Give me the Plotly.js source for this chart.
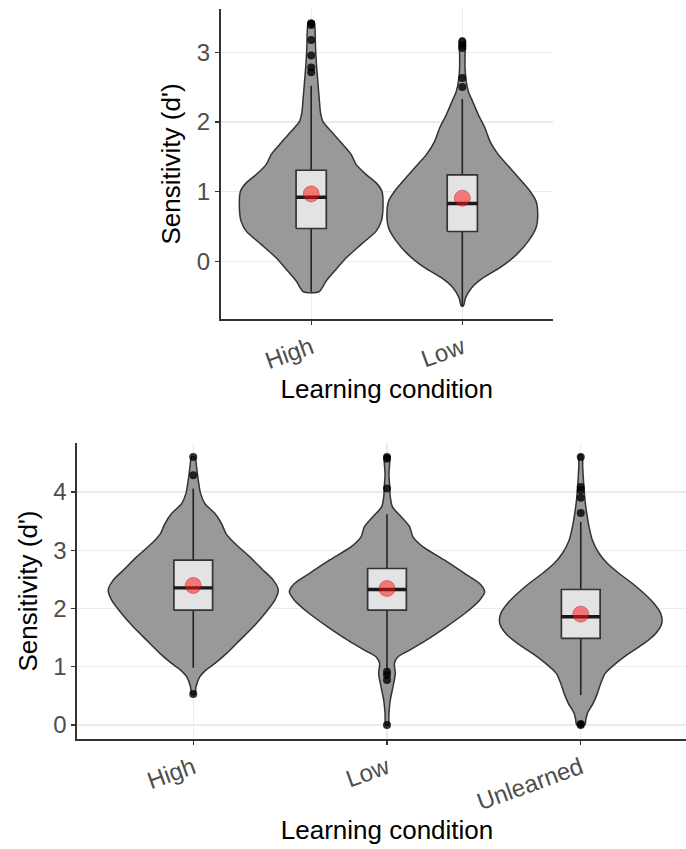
<!DOCTYPE html>
<html><head><meta charset="utf-8">
<script src="https://cdn.plot.ly/plotly-3.0.1.min.js"></script>
<style>html,body{margin:0;padding:0;overflow:hidden;background:#fff}</style>
</head><body><div id="chart" style="width:700px;height:849px"></div>
<script>
// ---------- Panel 1 (top) ----------
const cond1 = ["High", "Low"];
const p1HighY = [-0.43,-0.276,-0.133,0.057,0.248,0.438,0.581,0.771,1.01,1.129,1.248,1.39,1.533,1.676,1.867,2.01,2.13,2.343,2.58,2.82,3.057,3.295,3.44];
const p1HighW = [0.051,0.099,0.155,0.232,0.331,0.430,0.464,0.475,0.468,0.430,0.364,0.298,0.265,0.210,0.132,0.077,0.062,0.053,0.044,0.035,0.029,0.026,0.018];
const p1LowY = [-0.633,-0.514,-0.371,-0.229,-0.086,0.105,0.295,0.486,0.676,0.867,1.01,1.152,1.343,1.533,1.724,1.914,2.105,2.295,2.438,2.58,2.77,2.96,3.15,3.2];
const p1LowW = [0.007,0.022,0.062,0.139,0.249,0.360,0.437,0.488,0.499,0.488,0.448,0.393,0.316,0.238,0.183,0.150,0.106,0.068,0.040,0.026,0.018,0.018,0.020,0.011];
const p1Q1 = [0.476, 0.433];
const p1Median = [0.924, 0.833];
const p1Q3 = [1.31, 1.243];
const p1Lower = [-0.43, -0.633];
const p1Upper = [2.52, 2.33];
const p1Mean = [0.971, 0.91];
const p1OutHigh = [3.414, 3.39, 3.176, 2.952, 2.78, 2.714];
const p1OutLow = [3.15, 3.10, 3.06, 2.63, 2.50];
const p1YTicks = [0, 1, 2, 3];

// ---------- Panel 2 (bottom) ----------
const cond2 = ["High", "Low", "Unlearned"];
const p2HighY = [0.531,0.657,0.829,0.943,1.057,1.229,1.457,1.686,1.914,2.143,2.314,2.486,2.657,2.886,3.114,3.286,3.457,3.629,3.8,3.971,4.2,4.43,4.6];
const p2HighW = [0.009,0.014,0.034,0.065,0.112,0.172,0.241,0.310,0.370,0.421,0.439,0.413,0.361,0.292,0.215,0.169,0.146,0.112,0.060,0.038,0.026,0.017,0.009];
const p2LowY = [0.0,0.2,0.429,0.657,0.886,1.057,1.171,1.286,1.457,1.686,1.914,2.143,2.286,2.429,2.6,2.829,3.057,3.229,3.4,3.571,3.743,3.914,4.086,4.314,4.543,4.63];
const p2LowW = [0.007,0.010,0.017,0.031,0.043,0.038,0.057,0.117,0.203,0.306,0.401,0.478,0.504,0.478,0.401,0.298,0.186,0.134,0.117,0.074,0.028,0.017,0.014,0.010,0.014,0.007];
const p2UnlY = [0.0,0.086,0.2,0.371,0.543,0.714,0.886,1.057,1.229,1.4,1.571,1.743,1.914,2.086,2.257,2.429,2.6,2.771,2.943,3.171,3.4,3.629,3.857,4.2,4.43,4.63];
const p2UnlW = [0.021,0.026,0.034,0.064,0.086,0.103,0.126,0.181,0.249,0.327,0.387,0.418,0.413,0.378,0.327,0.267,0.198,0.138,0.095,0.060,0.043,0.031,0.022,0.014,0.010,0.007];
const p2Q1 = [1.971, 1.971, 1.486];
const p2Median = [2.354, 2.326, 1.857];
const p2Q3 = [2.829, 2.686, 2.326];
const p2Lower = [0.983, 0.943, 0.514];
const p2Upper = [4.057, 3.617, 3.486];
const p2Mean = [2.394, 2.343, 1.903];
const p2OutHigh = [4.6, 4.286, 0.531];
const p2OutLow = [4.6, 4.571, 4.057, 0.914, 0.857, 0.771, 0.0];
const p2OutUnl = [4.6, 4.086, 4.03, 3.9, 3.64, 0.017, 0.0];
const p2YTicks = [0, 1, 2, 3, 4];

// ---------- styling ----------
const FONT = "Liberation Sans, Arial, Helvetica, sans-serif";
const BOXW = 0.2;

function violinTrace(pos, ys, ws, xa, ya) {
  const x = ys.map((y, i) => pos - ws[i]).concat(ys.slice().reverse().map((y, i) => pos + ws[ws.length - 1 - i]));
  const y = ys.concat(ys.slice().reverse());
  x.push(x[0]); y.push(y[0]);
  return {type: 'scatter', mode: 'lines', x: x, y: y, fill: 'toself', fillcolor: '#999999',
    line: {color: '#333333', width: 1.5, shape: 'spline', smoothing: 0.7},
    xaxis: xa, yaxis: ya, hoverinfo: 'skip', showlegend: false};
}

function panelTraces(conds, violins, q1, med, q3, lo, hi, mean, outs, xa, ya) {
  const pos = conds.map((c, i) => i + 1);
  const h = BOXW / 2;
  const tr = [];
  violins.forEach((v, i) => tr.push(violinTrace(pos[i], v[0], v[1], xa, ya)));
  // whiskers
  const wx = [], wy = [];
  pos.forEach((p, i) => { wx.push(p, p, null, p, p, null); wy.push(lo[i], q1[i], null, q3[i], hi[i], null); });
  tr.push({type: 'scatter', mode: 'lines', x: wx, y: wy, line: {color: '#222222', width: 1.6},
    xaxis: xa, yaxis: ya, showlegend: false, hoverinfo: 'skip'});
  // boxes (q1..q3)
  const bx = [], by = [];
  pos.forEach((p, i) => {
    bx.push(p - h, p + h, p + h, p - h, p - h, null);
    by.push(q1[i], q1[i], q3[i], q3[i], q1[i], null);
  });
  tr.push({type: 'scatter', mode: 'lines', x: bx, y: by, fill: 'toself', fillcolor: '#e3e3e3',
    line: {color: '#333333', width: 1.7}, xaxis: xa, yaxis: ya, showlegend: false, hoverinfo: 'skip'});
  // thicker median line
  const mx = [], my = [];
  pos.forEach((p, i) => { mx.push(p - h, p + h, null); my.push(med[i], med[i], null); });
  tr.push({type: 'scatter', mode: 'lines', x: mx, y: my, line: {color: '#1a1a1a', width: 3.4},
    xaxis: xa, yaxis: ya, showlegend: false, hoverinfo: 'skip'});
  // outliers
  const ox = [], oy = [];
  outs.forEach((arr, i) => arr.forEach(v => { ox.push(pos[i]); oy.push(v); }));
  tr.push({type: 'scatter', mode: 'markers', x: ox, y: oy,
    marker: {color: 'rgba(0,0,0,0.8)', size: 8}, xaxis: xa, yaxis: ya, showlegend: false, hoverinfo: 'skip'});
  // means
  tr.push({type: 'scatter', mode: 'markers', x: pos, y: mean,
    marker: {color: 'rgba(255,20,20,0.52)', size: 16, line: {color: 'rgba(170,0,0,0.35)', width: 1}},
    xaxis: xa, yaxis: ya, showlegend: false, hoverinfo: 'skip'});
  return tr;
}

const traces = [].concat(
  panelTraces(cond1, [[p1HighY, p1HighW], [p1LowY, p1LowW]], p1Q1, p1Median, p1Q3, p1Lower, p1Upper, p1Mean,
    [p1OutHigh, p1OutLow], 'x', 'y'),
  panelTraces(cond2, [[p2HighY, p2HighW], [p2LowY, p2LowW], [p2UnlY, p2UnlW]], p2Q1, p2Median, p2Q3, p2Lower, p2Upper, p2Mean,
    [p2OutHigh, p2OutLow, p2OutUnl], 'x2', 'y2')
);

const W = 700, H = 849;
function xAxis(dom, n, labels) {
  return {domain: dom, range: [0.4, n + 0.6], tickmode: 'array', tickvals: labels.map((c, i) => i + 1), ticktext: labels,
    tickangle: -20, showgrid: true, gridcolor: '#ebebeb', gridwidth: 1.2, zeroline: false,
    showline: true, linecolor: '#333333', linewidth: 1.6, ticks: 'outside', ticklen: 4, tickcolor: '#333333', tickwidth: 1.2,
    tickfont: {family: FONT, size: 24, color: '#4d4d4d'},
    title: {text: 'Learning condition', font: {family: FONT, size: 26, color: '#000000'}, standoff: 6}};
}
function yAxis(dom, rng, ticks, anchor) {
  return {domain: dom, range: rng, tickmode: 'array', tickvals: ticks, ticktext: ticks.map(String),
    showgrid: true, gridcolor: '#ebebeb', gridwidth: 1.2, zeroline: false, anchor: anchor,
    showline: true, linecolor: '#333333', linewidth: 1.6, ticks: 'outside', ticklen: 4, tickcolor: '#333333', tickwidth: 1.2,
    tickfont: {family: FONT, size: 24, color: '#4d4d4d'},
    title: {text: "Sensitivity (d')", font: {family: FONT, size: 26, color: '#000000'}, standoff: 8}};
}

const layout = {
  width: W, height: H, margin: {l: 0, r: 0, t: 0, b: 0},
  paper_bgcolor: '#ffffff', plot_bgcolor: '#ffffff', showlegend: false,
  xaxis: Object.assign(xAxis([220.5 / W, 553 / W], 2, cond1), {anchor: 'y'}),
  yaxis: yAxis([1 - 319 / H, 1 - 8.9 / H], [-0.82, 3.62], p1YTicks, 'x'),
  xaxis2: Object.assign(xAxis([77 / W, 697 / W], 3, cond2), {anchor: 'y2'}),
  yaxis2: yAxis([1 - 739 / H, 1 - 443 / H], [-0.24, 4.84], p2YTicks, 'x2')
};

Plotly.newPlot('chart', traces, layout, {displayModeBar: false, staticPlot: true});
</script>
</body></html>
